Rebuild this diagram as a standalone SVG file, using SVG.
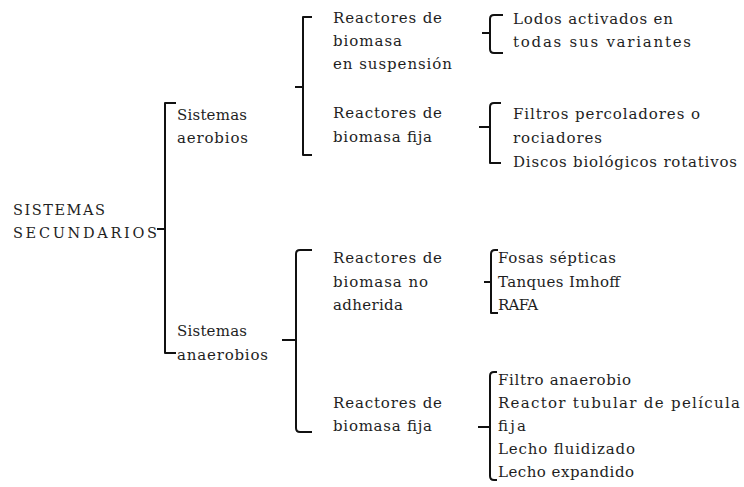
<svg xmlns="http://www.w3.org/2000/svg" width="744" height="487" viewBox="0 0 744 487">
  <style>
    text { font-family: "DejaVu Serif", "Liberation Serif", serif; font-size: 15px; fill: #1e1e1e; }
    .caps { font-size: 14.5px; }
    .br { fill: none; stroke: #111; stroke-width: 2; stroke-linecap: butt; stroke-linejoin: round; }
  </style>
  <rect width="744" height="487" fill="#fff"/>

  <!-- brackets joining each level -->
  <g id="connectors">
    <!-- main bracket -->
    <path class="br" d="M176,103 L165,103 L165,353 L176,353 M157,229 L165,229"/>
    <!-- aerobic reactor types -->
    <path class="br" d="M312,17 L303,17 L303,155 L312,155 M295,87 L303,87"/>
    <!-- anaerobic reactor types -->
    <path class="br" d="M312,250 L300,250 Q296,250 296,254 L296,428 Q296,432 300,432 L312,432 M282,340 L296,340"/>
    <!-- activated sludge -->
    <path class="br" d="M503,15 L494,15 Q490,15 490,19 L490,49 Q490,53 494,53 L503,53 M482,33 L490,33"/>
    <!-- fixed-film aerobic -->
    <path class="br" d="M501,103 L494,103 Q490,103 490,107 L490,163 L501,163 M479,127 L490,127"/>
    <!-- non-attached anaerobic -->
    <path class="br" d="M498,250 L495,250 Q491,250 491,254 L491,313 L498,313 M484,282 L491,282"/>
    <!-- fixed-film anaerobic -->
    <path class="br" d="M497,372 L494,372 Q490,372 490,376 L490,476 Q490,480 494,480 L497,480 M478,427 L490,427"/>
  </g>

  <g id="root">
    <text class="caps" x="13" y="215" textLength="92" lengthAdjust="spacing">SISTEMAS</text>
    <text class="caps" x="13" y="238" textLength="144" lengthAdjust="spacing">SECUNDARIOS</text>
  </g>

  <g id="aerobios">
    <text x="177" y="120" textLength="70" lengthAdjust="spacing">Sistemas</text>
    <text x="177" y="143" textLength="71" lengthAdjust="spacing">aerobios</text>
  </g>

  <g id="anaerobios">
    <text x="177" y="336" textLength="70" lengthAdjust="spacing">Sistemas</text>
    <text x="177" y="360" textLength="91" lengthAdjust="spacing">anaerobios</text>
  </g>

  <g id="suspension">
    <text x="333" y="23" textLength="109" lengthAdjust="spacing">Reactores de</text>
    <text x="333" y="46" textLength="69" lengthAdjust="spacing">biomasa</text>
    <text x="333" y="69" textLength="119" lengthAdjust="spacing">en suspensión</text>
  </g>

  <g id="aerobia-fija">
    <text x="333" y="118" textLength="109" lengthAdjust="spacing">Reactores de</text>
    <text x="333" y="142" textLength="99" lengthAdjust="spacing">biomasa fija</text>
  </g>

  <g id="no-adherida">
    <text x="333" y="263" textLength="109" lengthAdjust="spacing">Reactores de</text>
    <text x="333" y="287" textLength="95" lengthAdjust="spacing">biomasa no</text>
    <text x="333" y="310" textLength="70" lengthAdjust="spacing">adherida</text>
  </g>

  <g id="anaerobia-fija">
    <text x="333" y="408" textLength="109" lengthAdjust="spacing">Reactores de</text>
    <text x="333" y="431" textLength="99" lengthAdjust="spacing">biomasa fija</text>
  </g>

  <g id="lodos">
    <text x="513" y="24" textLength="160" lengthAdjust="spacing">Lodos activados en</text>
    <text x="513" y="47" textLength="178" lengthAdjust="spacing">todas sus variantes</text>
  </g>

  <g id="filtros">
    <text x="513" y="119" textLength="187" lengthAdjust="spacing">Filtros percoladores o</text>
    <text x="513" y="143" textLength="89" lengthAdjust="spacing">rociadores</text>
    <text x="513" y="167" textLength="224" lengthAdjust="spacing">Discos biológicos rotativos</text>
  </g>

  <g id="fosas">
    <text x="498" y="263" textLength="118" lengthAdjust="spacing">Fosas sépticas</text>
    <text x="498" y="287" textLength="122" lengthAdjust="spacing">Tanques Imhoff</text>
    <text x="498" y="310" textLength="40" lengthAdjust="spacing">RAFA</text>
  </g>

  <g id="pelicula-fija">
    <text x="498" y="385" textLength="133" lengthAdjust="spacing">Filtro anaerobio</text>
    <text x="498" y="408" textLength="242" lengthAdjust="spacing">Reactor tubular de película</text>
    <text x="498" y="431" textLength="28" lengthAdjust="spacing">fija</text>
    <text x="498" y="454" textLength="137" lengthAdjust="spacing">Lecho fluidizado</text>
    <text x="498" y="477" textLength="136" lengthAdjust="spacing">Lecho expandido</text>
  </g>
</svg>
